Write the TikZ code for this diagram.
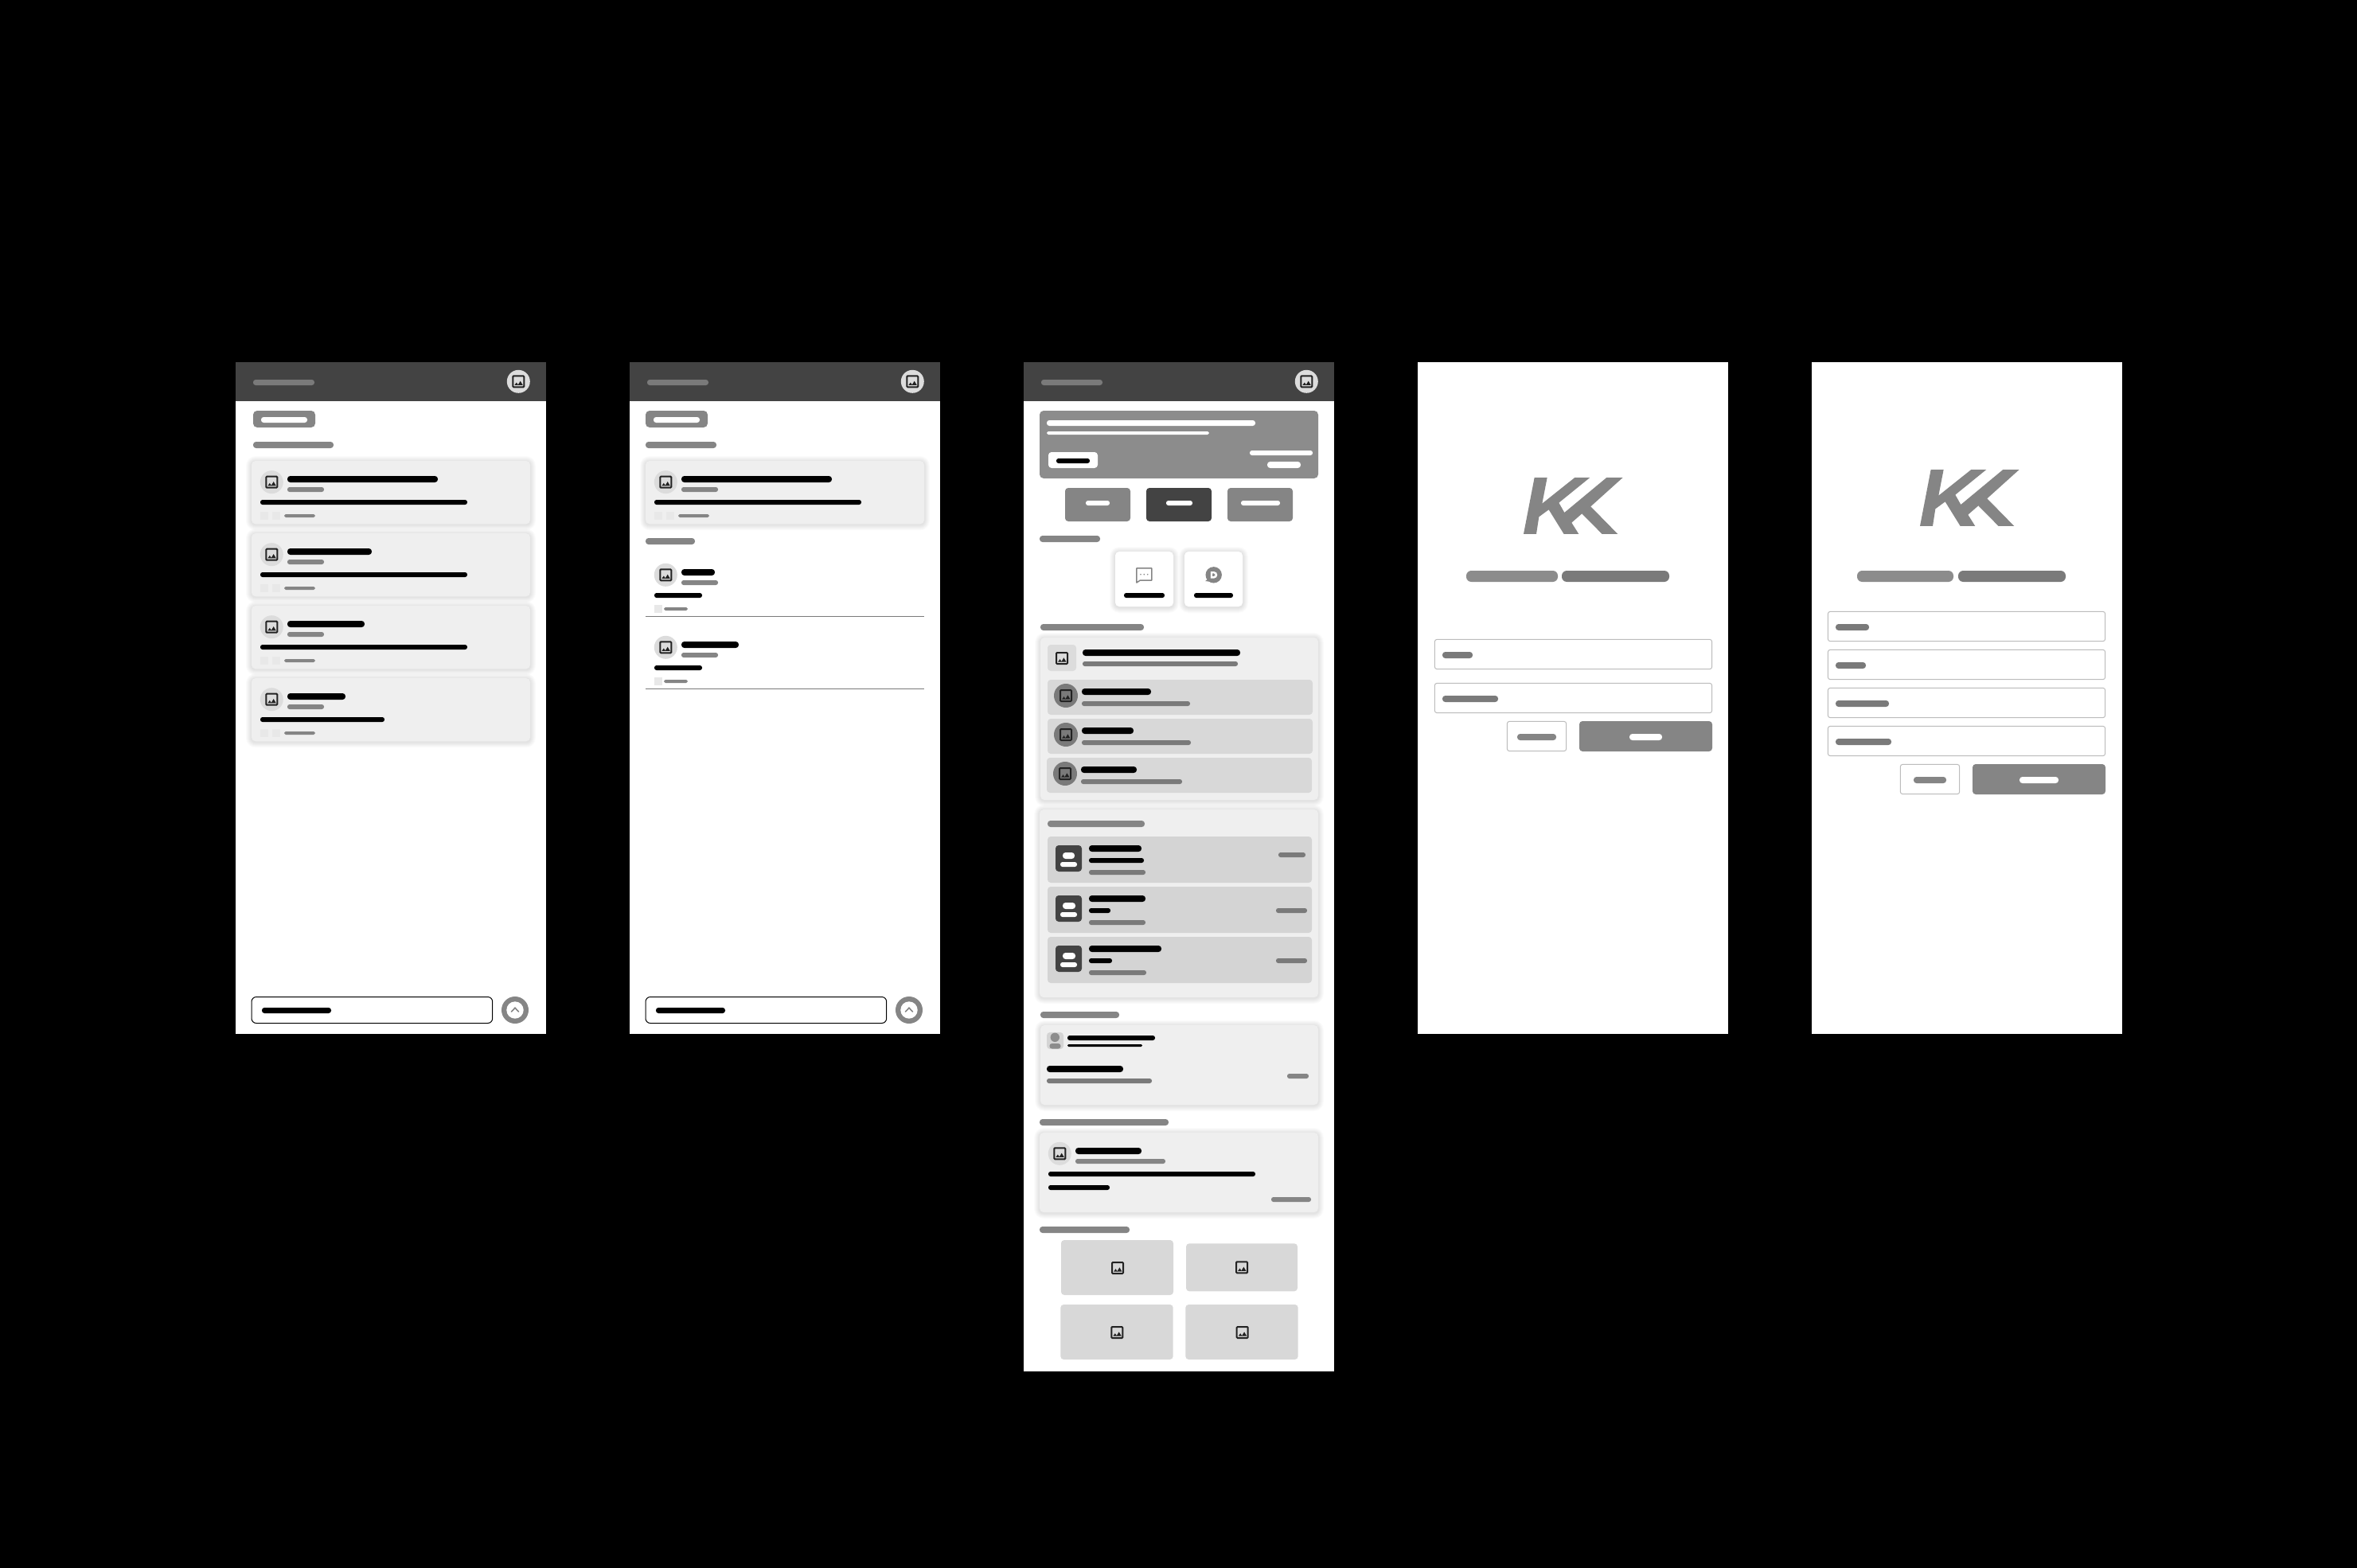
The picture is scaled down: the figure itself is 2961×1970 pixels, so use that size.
\documentclass[tikz,border=0pt]{standalone}
\definecolor{hdr}{HTML}{434343}
\definecolor{gmid}{HTML}{858585}
\definecolor{gbar}{HTML}{7A7A7A}
\definecolor{gban}{HTML}{8C8C8C}
\definecolor{cardbg}{HTML}{EFEFEF}
\definecolor{circ}{HTML}{DCDCDC}
\definecolor{sq}{HTML}{E8E8E8}
\definecolor{rowa}{HTML}{D8D8D8}
\definecolor{rowb}{HTML}{D4D4D4}
\definecolor{ico}{HTML}{222222}
\definecolor{bord}{HTML}{BCBCBC}
\tikzset{
  icon line/.style={draw=ico,line width=2pt,rounded corners=1pt},
  icon peak/.style={fill=ico},
  field/.style={draw=bord,fill=white,line width=1pt,rounded corners=3pt},
}
% rounded bar: colour, x1, y1, x2, y2
\newcommand{\pl}[5]{\pgfmathsetmacro{\rr}{(#5-(#3))*0.45}\fill[#1,rounded corners=\rr pt] (#2,#3) rectangle (#4,#5);}
% soft-cornered box
\newcommand{\bx}[6]{\fill[#1,rounded corners=#6pt] (#2,#3) rectangle (#4,#5);}
% image icon centred at x,y
\newcommand{\imgic}[2]{\begin{scope}[shift={(#1,#2)}]
  \draw[icon line] (-7,-7) rectangle (7,7);
  \fill[icon peak] (-4.9,4.6) -- (-2.5,1.2) -- (-0.1,4.6) -- cycle;
  \fill[icon peak] (-0.8,4.6) -- (2.4,-0.6) -- (5.5,4.6) -- cycle;
\end{scope}}
% circle avatar with icon
\newcommand{\avat}[4]{\fill[#4] (#1,#2) circle (#3); \imgic{#1}{#2}}
% card with shadow
\newcommand{\shcard}[5]{\foreach \k in {7,6,...,1}{\fill[black,opacity=0.014,rounded corners={(5+\k)*1pt}] (#1-\k,#2-\k+1) rectangle (#3+\k,#4+\k+1);}
  \fill[#5,rounded corners=5pt] (#1,#2) rectangle (#3,#4);}
% feed card
\newcommand{\fcard}[4]{\begin{scope}[shift={(#1,#2)}]
  \shcard{0}{0}{350}{79.3}{cardbg}
  \avat{25.3}{26.7}{14.5}{circ}
  \pl{black}{45}{19}{45+#3}{27}
  \pl{gmid}{45}{33}{91}{39}
  \pl{black}{11}{49}{11+#4}{55}
  \fill[sq] (11,64) rectangle (21,74);
  \fill[sq] (26,64) rectangle (36,74);
  \pl{gmid}{41}{67}{80}{71}
\end{scope}}
% phone frame with optional header
\newcommand{\phonebase}[2]{\fill[white] (#1,455) rectangle (#1+390,#2);}
\newcommand{\phead}[1]{\fill[hdr] (#1,455) rectangle (#1+390,504);
  \pl{gbar}{#1+22}{477}{#1+99}{484}
  \avat{#1+355.3}{479.3}{14.5}{circ}}
% bottom input row
\newcommand{\inrow}[1]{\begin{scope}[shift={(#1,0)}]
  \draw[black,fill=white,line width=1pt,rounded corners=6pt] (20,1252.5) rectangle (322.7,1285.5);
  \pl{black}{33}{1266}{120}{1273}
  \fill[gmid] (351,1269) circle (17);
  \fill[white] (351,1269) circle (10.7);
  \draw[gmid,line width=1.6pt,line cap=round] (346.5,1271) -- (351,1266.3) -- (355.5,1271);
\end{scope}}
% rows in the account card
\newcommand{\acrow}[9]{\bx{rowb}{1316}{#1}{1648}{#1+58}{4}
  \bx{hdr}{1326}{#1+#2}{1359}{#1+#2+33}{4}
  \pl{white}{1335}{#1+#2+9}{#3}{#1+#2+17}
  \pl{white}{1332}{#1+#2+21}{1353}{#1+#2+27}
  \pl{black}{1368}{#1+11}{#4}{#1+19}
  \pl{black}{1368}{#1+27}{#5}{#1+33}
  \pl{gbar}{1368}{#1+42}{#6}{#1+48}
  \pl{gbar}{#7}{#8}{#9}{#8+6}}
% menu row in the first card
\newcommand{\mrow}[5]{\bx{rowa}{#1}{#2}{#1+333}{#2+44}{4}
  \fill[gbar] (#1+23,#2+20) circle (15); \imgic{#1+23}{#2+20}
  \pl{black}{#3}{#2+11}{#4}{#2+19}
  \pl{gbar}{#3}{#2+27}{#5}{#2+33}}
% KK logo in zoom coordinates
\newcommand{\kk}[2]{\begin{scope}[shift={(#1,#2)},x=0.3333pt,y=-0.3333pt]
  \fill[gmid] (443,120) -- (491,120) -- (472,218) -- (595,120) -- (652,120) -- (535,215) -- (556,252) -- (715,120) -- (776,120) -- (655,229) -- (757,333) -- (698,333) -- (622,256) -- (583,290) -- (610,333) -- (554,333) -- (497,241) -- (460,268) -- (450,333) -- (402,333) -- cycle;
\end{scope}}
\begin{document}
\begin{tikzpicture}[x=1pt,y=-1pt]
\fill[black] (0,0) rectangle (2961,1970);
\useasboundingbox (0,0) rectangle (2961,1970);

% ---------- phone 1
\phonebase{296}{1299}
\phead{296}
\bx{gmid}{318}{516}{396}{537}{5}
\pl{white}{328}{524}{386}{531}
\pl{gmid}{318}{555}{419}{563}
\fcard{316}{579}{189}{260}
\fcard{316}{670}{106}{260}
\fcard{316}{761}{97}{260}
\fcard{316}{852}{73}{156}
\inrow{296}

% ---------- phone 2
\phonebase{791}{1299}
\phead{791}
\bx{gmid}{811}{516}{889}{537}{5}
\pl{white}{821}{524}{879}{531}
\pl{gmid}{811}{555}{900}{563}
\fcard{811}{579}{189}{260}
\pl{gmid}{811}{676}{873}{684}
\foreach \yy/\tt in {0/898,91/928}{
  \begin{scope}[shift={(0,\yy)}]
  \avat{836.3}{722.3}{14.5}{circ}
  \pl{black}{856}{715}{\tt}{723}
  \pl{gmid}{856}{729}{902}{735}
  \pl{black}{822}{745}{882}{751}
  \fill[sq] (822,760) rectangle (832,770);
  \pl{gmid}{834}{763}{864}{767}
  \draw[gbar,line width=1pt] (811,774.3) -- (1161,774.3);
  \end{scope}
}
\inrow{791}

% ---------- phone 3
\phonebase{1286}{1723}
\phead{1286}
\bx{gban}{1306}{516}{1656}{601}{5}
\pl{white}{1315}{528}{1577}{535}
\pl{white}{1315}{542}{1519}{546}
\bx{white}{1317}{568}{1379}{588}{4}
\pl{black}{1327}{576}{1369}{582}
\pl{white}{1570}{566}{1649}{572}
\pl{white}{1592}{580}{1634}{588}
\bx{gmid}{1338}{613}{1420}{655}{4}
\pl{white}{1364}{629}{1394}{635}
\bx{hdr}{1440}{613}{1522}{655}{4}
\pl{white}{1465}{629}{1498}{635}
\bx{gmid}{1542}{613}{1624}{655}{4}
\pl{white}{1559}{629}{1608}{635}
\pl{gmid}{1306}{673}{1382}{681}
\shcard{1401}{693}{1474}{762}{white}
\shcard{1488}{693}{1561}{762}{white}
\draw[gmid,line width=1.5pt,line join=round] (1427.9,713.9) -- (1446.8,713.9) -- (1446.8,729) -- (1432.5,729) -- (1427.9,732) -- cycle;
\foreach \dx in {1433,1437.3,1441.7}{\fill[gmid] (\dx,721.7) circle (0.9);}
\pl{black}{1412}{745}{1463}{751}
\fill[gmid] (1524.7,722.3) circle (10.2);
\fill[gmid] (1518,727) -- (1514.2,730) -- (1521,731) -- cycle;
\fill[white,even odd rule] (1520.8,718) -- (1525,718) arc (-90:90:4.3) -- (1520.8,726.6) -- cycle
  (1523.2,720.4) -- (1525,720.4) arc (-90:90:1.9) -- (1523.2,724.2) -- cycle;
\pl{black}{1500}{745}{1549}{751}
\pl{gmid}{1307}{784}{1437}{792}

\shcard{1307}{801}{1656}{1005}{cardbg}
\bx{circ}{1316}{810}{1352}{843}{4}
\imgic{1334}{827}
\pl{black}{1360}{816}{1558}{824}
\pl{gbar}{1360}{831}{1555}{837}
\mrow{1316}{854}{1359}{1446}{1495}
\mrow{1316}{903}{1359}{1424}{1496}
\mrow{1315}{952}{1358}{1428}{1485}

\shcard{1306}{1017}{1656}{1253}{cardbg}
\pl{gmid}{1316}{1031}{1438}{1039}
\acrow{1051}{11}{1350}{1434}{1437}{1439}{1606}{1071}{1640}
\acrow{1114}{11}{1351}{1439}{1395}{1439}{1603}{1141}{1642}
\acrow{1177}{11}{1351}{1459}{1397}{1440}{1603}{1204}{1642}

\pl{gmid}{1307}{1271}{1406}{1279}
\shcard{1307}{1288}{1656}{1388}{cardbg}
\bx{rowb}{1315}{1297}{1336}{1318}{4}
\fill[gban] (1325.3,1303.3) circle (5.7);
\fill[gban,rounded corners=3pt] (1318.5,1317.5) -- (1318.5,1311) -- (1332.5,1311) -- (1332.5,1317.5) -- cycle;
\pl{black}{1341}{1301}{1451}{1307}
\pl{black}{1341}{1312}{1435}{1315}
\pl{black}{1315}{1339}{1411}{1347}
\pl{gbar}{1315}{1355}{1447}{1361}
\pl{gmid}{1617}{1349}{1644}{1355}

\pl{gmid}{1306}{1406}{1468}{1414}
\shcard{1306}{1423}{1656}{1523}{cardbg}
\avat{1331.3}{1449.3}{14.5}{circ}
\pl{black}{1351}{1442}{1434}{1450}
\pl{gmid}{1351}{1456}{1464}{1462}
\pl{black}{1317}{1472}{1577}{1478}
\pl{black}{1317}{1489}{1394}{1495}
\pl{gmid}{1597}{1504}{1647}{1510}

\pl{gmid}{1306}{1541}{1419}{1549}
\bx{rowa}{1333}{1558}{1474}{1627}{4}
\imgic{1404}{1593}
\bx{rowa}{1490}{1562.3}{1630}{1622.3}{4}
\imgic{1560}{1592.3}
\bx{rowa}{1332.3}{1639}{1473.7}{1708}{4}
\imgic{1403.3}{1674}
\bx{rowa}{1489.3}{1639}{1630.7}{1708}{4}
\imgic{1560.7}{1674}

% ---------- phone 4
\phonebase{1781}{1299}
\kk{1780}{560}
\pl{gban}{1842}{717}{1957}{731}
\pl{gbar}{1962}{717}{2097}{731}
\draw[field] (1802.3,803.3) rectangle (2150.7,840.7);
\pl{gbar}{1812}{819}{1850}{827}
\draw[field] (1802.3,858.3) rectangle (2150.7,895.7);
\pl{gbar}{1812}{874}{1882}{882}
\draw[field] (1893.3,906.3) rectangle (1967.7,943.7);
\pl{gmid}{1906}{922}{1955}{930}
\bx{gmid}{1984}{906}{2151}{944}{4}
\pl{white}{2047}{922}{2088}{930}

% ---------- phone 5
\phonebase{2276}{1299}
\kk{2278}{550}
\pl{gban}{2333}{717}{2454}{731}
\pl{gbar}{2460}{717}{2595}{731}
\draw[field] (2296.3,768.3) rectangle (2644.7,805.7);
\pl{gbar}{2306}{784}{2348}{792}
\draw[field] (2296.3,816.3) rectangle (2644.7,853.7);
\pl{gbar}{2306}{832}{2344}{840}
\draw[field] (2296.3,864.3) rectangle (2644.7,901.7);
\pl{gbar}{2306}{880}{2373}{888}
\draw[field] (2296.3,912.3) rectangle (2644.7,949.7);
\pl{gbar}{2306}{928}{2376}{936}
\draw[field] (2387.3,960.3) rectangle (2461.7,997.7);
\pl{gmid}{2404}{976}{2445}{984}
\bx{gmid}{2478}{960}{2645}{998}{4}
\pl{white}{2537}{976}{2586}{984}
\end{tikzpicture}
\end{document}
